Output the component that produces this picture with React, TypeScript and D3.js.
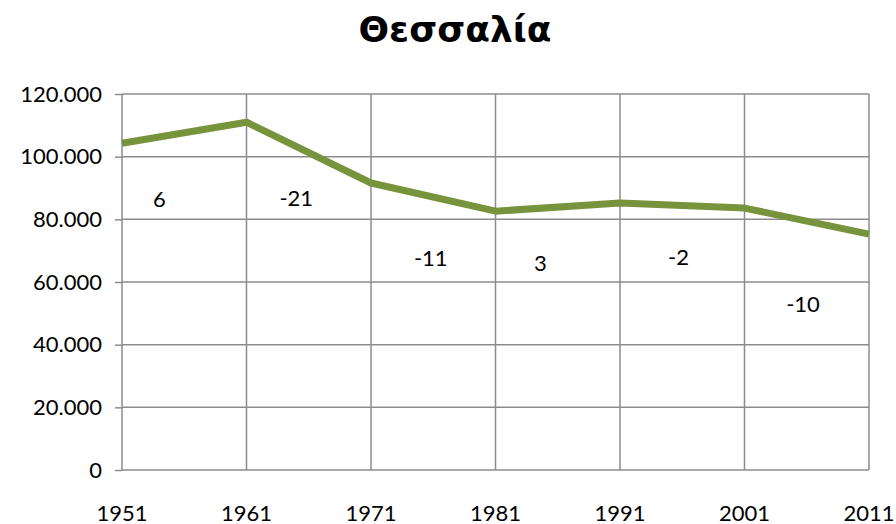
import React, { useEffect, useRef } from 'react'
import * as d3 from 'd3'

const years = ['1951', '1961', '1971', '1981', '1991', '2001', '2011']
const population = [104300, 111000, 91600, 82600, 85200, 83600, 75300]
const yTicks = [0, 20000, 40000, 60000, 80000, 100000, 120000]
const changeLabels = ['6', '-21', '-11', '3', '-2', '-10']
// where each change label sits, in chart units (index along x, value along y)
const changeX = [0.3, 1.4, 2.48, 3.36, 4.47, 5.47]
const changeY = [86800, 87100, 67800, 66100, 68000, 53000]

const W = 896
const H = 524
const margin = { left: 122, right: 27, top: 94, bottom: 54 }

const App = (): JSX.Element => {
  const ref = useRef<SVGSVGElement>(null)

  useEffect(() => {
    const svg = d3.select(ref.current)
    svg.selectAll('*').remove()
    const font = 'Lato, Carlito, sans-serif'

    const x = d3
      .scalePoint<string>()
      .domain(years)
      .range([margin.left, W - margin.right])
    const xi = d3
      .scaleLinear()
      .domain([0, years.length - 1])
      .range([margin.left, W - margin.right])
    const y = d3
      .scaleLinear()
      .domain([0, 120000])
      .range([H - margin.bottom, margin.top])

    svg
      .append('text')
      .attr('x', 455)
      .attr('y', 42)
      .attr('text-anchor', 'middle')
      .attr('font-family', 'DejaVu Sans, sans-serif')
      .attr('font-weight', 'bold')
      .attr('font-size', 36)
      .text('Θεσσαλία')

    // horizontal grid + y ticks
    const yAxis = d3
      .axisLeft(y)
      .tickValues(yTicks)
      .tickSize(7)
      .tickFormat(d => (+d === 0 ? '0' : d3.format(',')(+d).replace(/,/g, '.')))
    svg
      .append('g')
      .attr('transform', `translate(${margin.left},0)`)
      .call(yAxis)
      .call(g => {
        g.select('.domain').remove()
        g.selectAll('.tick line').attr('stroke', '#8c8c8c').attr('stroke-width', 1.5)
        g.selectAll('.tick text')
          .attr('x', -20)
          .attr('font-family', font)
          .attr('font-size', 22)
          .attr('fill', '#000')
      })
    svg
      .append('g')
      .selectAll('line')
      .data(yTicks)
      .join('line')
      .attr('x1', margin.left)
      .attr('x2', W - margin.right)
      .attr('y1', d => y(d))
      .attr('y2', d => y(d))
      .attr('stroke', '#8c8c8c')
      .attr('stroke-width', 1.5)

    // vertical grid
    svg
      .append('g')
      .selectAll('line')
      .data(years)
      .join('line')
      .attr('x1', d => x(d)!)
      .attr('x2', d => x(d)!)
      .attr('y1', y(120000))
      .attr('y2', y(0))
      .attr('stroke', '#8c8c8c')
      .attr('stroke-width', 1.5)

    // x labels
    svg
      .append('g')
      .selectAll('text')
      .data(years)
      .join('text')
      .attr('x', d => x(d)!)
      .attr('y', 521)
      .attr('text-anchor', 'middle')
      .attr('font-family', font)
      .attr('font-size', 22)
      .text(d => d)

    svg
      .append('path')
      .datum(population)
      .attr('fill', 'none')
      .attr('stroke', '#77933c')
      .attr('stroke-width', 7)
      .attr('stroke-linejoin', 'round')
      .attr(
        'd',
        d3
          .line<number>()
          .x((_, i) => x(years[i])!)
          .y(d => y(d)),
      )

    svg
      .append('g')
      .selectAll('text')
      .data(changeLabels)
      .join('text')
      .attr('x', (_, i) => xi(changeX[i]))
      .attr('y', (_, i) => y(changeY[i]))
      .attr('text-anchor', 'middle')
      .attr('dominant-baseline', 'central')
      .attr('font-family', font)
      .attr('font-size', 22)
      .text(d => d)
  }, [])

  return (
    <svg
      ref={ref}
      width={W}
      height={H}
      style={{ position: 'absolute', left: 0, top: 0, background: '#fff' }}
    />
  )
}

export default App
